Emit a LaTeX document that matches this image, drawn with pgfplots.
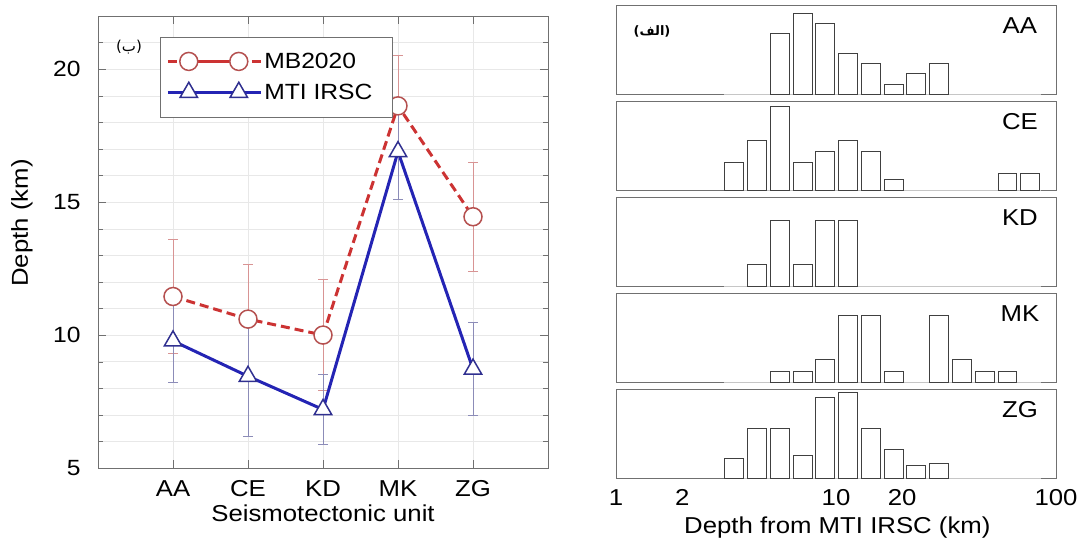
\documentclass[border=0pt]{standalone}
\usepackage{fontspec}
\usepackage{pgfplots}
\pgfplotsset{compat=1.18}
\setmainfont{Liberation Sans}[FakeStretch=1.12]
\newfontfamily\arabicfont[Script=Arabic]{DejaVu Sans}
\TeXXeTstate=1
\definecolor{redline}{HTML}{CC3333}
\definecolor{redmark}{HTML}{B5504F}
\definecolor{rederr}{HTML}{D89494}
\definecolor{blueline}{HTML}{2424B4}
\definecolor{bluemark}{HTML}{303090}
\definecolor{blueerr}{HTML}{8C8CB8}
\definecolor{frame}{HTML}{707070}

\pgfplotsset{
  panel/.style={
    scale only axis, width=440pt, height=89pt, anchor=south west,
    xmin=0, xmax=2, ymin=0,
    xtick=\empty, ytick=\empty,
    axis line style={frame},
  },
  hbar/.style={ybar, bar width=0.086, fill=white, draw=black!75, line width=0.8pt},
  base/.style={gray!45, line width=1pt, forget plot},
}

\begin{document}
\begin{tikzpicture}[font=\fontsize{23}{27}\selectfont]
\useasboundingbox (0,0) rectangle (1079pt,-538pt);

% left: depth per seismotectonic unit
\begin{axis}[
  at={(98pt,-468pt)}, anchor=south west,
  scale only axis, width=450pt, height=452pt,
  xmin=0, xmax=6, ymin=5, ymax=22,
  xtick={1,2,3,4,5}, xticklabels={AA,CE,KD,MK,ZG},
  ytick={5,10,15,20}, minor ytick={6,...,21},
  grid=both, major grid style={gray!18}, minor grid style={gray!18},
  axis line style={frame}, tick style={frame},
  major tick length=8pt, minor tick length=5pt,
  /pgf/number format/assume math mode=true,
  yticklabel style={font=\fontsize{22}{26}\selectfont, xshift=-14pt},
  xticklabel style={font=\fontsize{23}{27}\selectfont, yshift=-9pt},
  xlabel={Seismotectonic unit}, ylabel={Depth (km)},
  x label style={at={(axis description cs:0.5,0)}, anchor=center, yshift=-45pt},
  y label style={at={(axis description cs:-0.169,0.542)}, anchor=center},
  legend cell align=left,
  legend style={at={(rel axis cs:0.138,0.954)}, anchor=north west,
    draw=frame, font=\fontsize{22}{26}\selectfont, row sep=10pt,
    inner xsep=6pt, inner ysep=14pt},
  legend image code/.code={\path (-21pt,0pt) -- (72pt,0pt);
    \draw[mark repeat=2,mark phase=1,#1]
    plot coordinates {(0pt,0pt) (25pt,0pt) (50pt,0pt)};},
]
\addplot[redline, line width=3pt, dash pattern=on 9pt off 5pt,
  mark=*, mark size=9pt, mark options={solid, draw=redmark, fill=white, line width=1.5pt},
  error bars/.cd, y dir=both, y explicit,
  error bar style={rederr, line width=1pt, solid},
  error mark options={rederr, rotate=90, mark size=5pt, line width=1pt}]
  coordinates {
  (1,11.45) +- (0,2.15)
  (2,10.60) +- (0,2.05)
  (3,10.00) +- (0,2.10)
  (4,18.62) +- (0,1.90)
  (5,14.45) +- (0,2.05)
};
\addlegendentry{MB2020}
\addplot[blueline, line width=3pt,
  mark=triangle*, mark size=10pt, mark options={solid, draw=bluemark, fill=white, line width=1.5pt},
  error bars/.cd, y dir=both, y explicit,
  error bar style={blueerr, line width=1pt},
  error mark options={blueerr, rotate=90, mark size=5pt, line width=1pt}]
  coordinates {
  (1,9.78) +- (0,1.55)
  (2,8.45) +- (0,2.25)
  (3,7.20) +- (0,1.30)
  (4,16.90) +- (0,1.80)
  (5,8.72) +- (0,1.75)
};
\addlegendentry{MTI IRSC\hspace*{12pt}}
\node[font=\arabicfont\fontsize{15}{17}\selectfont] at (rel axis cs:0.069,0.931) {\beginR(ب)\endR};
\end{axis}

% right: depth histograms (x = log10 depth)
\begin{axis}[panel, at={(616pt,-94pt)}, ymax=8.83]
\addplot[base] coordinates {(0.49,0) (1.93,0)};
\addplot[hbar] coordinates {(0.744,6) (0.848,8) (0.951,7) (1.055,4) (1.158,3) (1.262,1) (1.365,2) (1.469,3)};
\node at (rel axis cs:0.918,0.77) {AA};
\node[font=\arabicfont\bfseries\fontsize{13}{15}\selectfont] at (rel axis cs:0.082,0.70) {\beginR(الف)\endR};
\end{axis}

\begin{axis}[panel, at={(616pt,-190pt)}, ymax=16.06]
\addplot[base] coordinates {(0.49,0) (1.93,0)};
\addplot[hbar] coordinates {(0.537,5) (0.641,9) (0.744,15) (0.848,5) (0.951,7) (1.055,9) (1.158,7) (1.262,2) (1.779,3) (1.883,3)};
\node at (rel axis cs:0.918,0.77) {CE};
\end{axis}

\begin{axis}[panel, at={(616pt,-286pt)}, ymax=4.05]
\addplot[base] coordinates {(0.49,0) (1.93,0)};
\addplot[hbar] coordinates {(0.641,1) (0.744,3) (0.848,1) (0.951,3) (1.055,3)};
\node at (rel axis cs:0.918,0.77) {KD};
\end{axis}

\begin{axis}[panel, at={(616pt,-382pt)}, ymax=8.04]
\addplot[base] coordinates {(0.49,0) (1.93,0)};
\addplot[hbar] coordinates {(0.744,1) (0.848,1) (0.951,2) (1.055,6) (1.158,6) (1.262,1) (1.469,6) (1.572,2) (1.676,1) (1.779,1)};
\node at (rel axis cs:0.918,0.77) {MK};
\end{axis}

\begin{axis}[panel, at={(616pt,-478pt)}, ymax=27,
  xtick={0,0.30103,1,1.30103,2}, xticklabels={1,2,10,20,100},
  major tick length=0pt,
  /pgf/number format/assume math mode=true,
  xticklabel style={font=\fontsize{23}{27}\selectfont, yshift=-8pt},
  xlabel={Depth from MTI IRSC (km)},
  x label style={at={(axis description cs:0.503,0)}, anchor=center, yshift=-50pt},
]
\addplot[base] coordinates {(0.49,0) (1.93,0)};
\addplot[hbar] coordinates {(0.537,5.8) (0.641,15.0) (0.744,15.0) (0.848,7.0) (0.951,24.6) (1.055,26.1) (1.158,15.0) (1.262,8.8) (1.365,3.8) (1.469,4.3)};
\node at (rel axis cs:0.918,0.77) {ZG};
\end{axis}
\end{tikzpicture}
\end{document}
